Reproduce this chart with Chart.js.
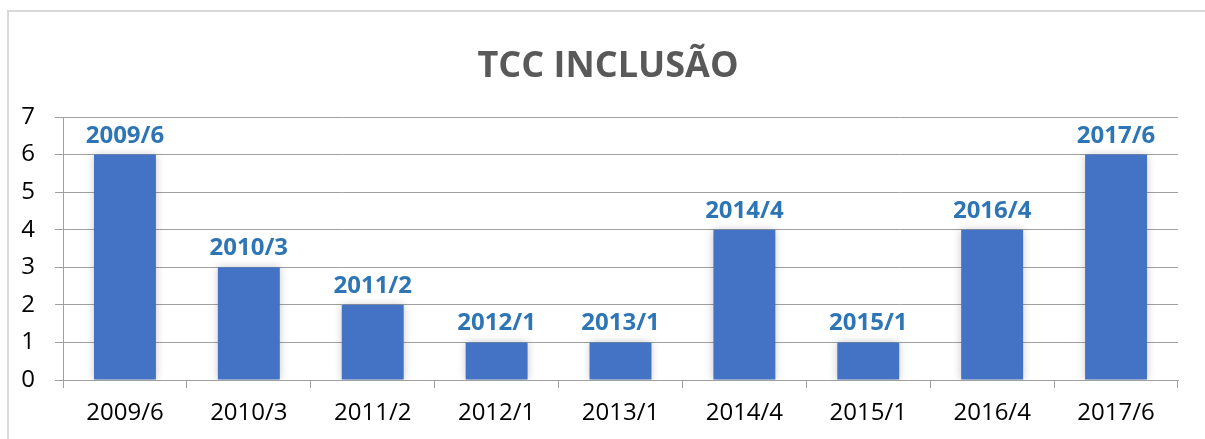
<!DOCTYPE html>
<html>
<head>
<meta charset="utf-8">
<script src="https://cdn.jsdelivr.net/npm/chart.js@4/dist/chart.umd.min.js"></script>
<style>
  body { margin: 0; background: #fff; }
  canvas { display: block; }
</style>
</head>
<body>
<canvas id="canvasOne" width="1205" height="439"></canvas>
<script>
var titleText = "TCC INCLUSÃO";
var categories = ["2009/6", "2010/3", "2011/2", "2012/1", "2013/1", "2014/4", "2015/1", "2016/4", "2017/6"];
var values = [6, 3, 2, 1, 1, 4, 1, 4, 6];
var yTicks = [0, 1, 2, 3, 4, 5, 6, 7];

var gridColor = "#a0a0a0";

// frame + title
var framePlugin = {
   id: "frame",
   beforeDraw: function(chart) {
      var ctx = chart.ctx;
      ctx.save();
      ctx.strokeStyle = "#d9d9d9";
      ctx.lineWidth = 2;
      ctx.beginPath();
      ctx.moveTo(8, 439);
      ctx.lineTo(8, 11);
      ctx.lineTo(1205, 11);
      ctx.stroke();
      ctx.fillStyle = "#595959";
      ctx.font = "bold 36px 'Open Sans'";
      ctx.textAlign = "center";
      ctx.textBaseline = "middle";
      ctx.fillText(titleText, 608, 67);
      ctx.restore();
   }
};

// soft shadow under the bars
var shadowPlugin = {
   id: "barShadow",
   beforeDatasetsDraw: function(chart) {
      var ctx = chart.ctx;
      ctx.save();
      ctx.shadowColor = "rgba(0,0,0,0.22)";
      ctx.shadowBlur = 8;
      ctx.shadowOffsetX = 0;
      ctx.shadowOffsetY = 0;
   },
   afterDatasetsDraw: function(chart) {
      chart.ctx.restore();
   }
};

// category labels above each bar
var labelPlugin = {
   id: "barLabels",
   afterDraw: function(chart) {
      var ctx = chart.ctx;
      var meta = chart.getDatasetMeta(0);
      ctx.save();
      ctx.fillStyle = "#2e75b6";
      ctx.font = "bold 24px 'Open Sans'";
      ctx.textAlign = "center";
      ctx.textBaseline = "alphabetic";
      meta.data.forEach(function(bar, i) {
         ctx.fillText(categories[i], bar.x, bar.y - 12);
      });
      ctx.restore();
   }
};

var ctx = document.getElementById("canvasOne").getContext("2d");
var config = {
   type: "bar",
   data: {
      labels: categories,
      datasets: [{
         label: titleText,
         data: values,
         backgroundColor: "#4472c4",
         borderWidth: 0,
         barPercentage: 0.5,
         categoryPercentage: 1.0
      }]
   },
   options: {
      responsive: false,
      animation: false,
      layout: { padding: { top: 117, right: 27, left: 0, bottom: 0 } },
      plugins: {
         legend: { display: false },
         title: { display: false },
         tooltip: { enabled: false }
      },
      scales: {
         x: {
            grid: {
               drawOnChartArea: false,
               drawTicks: true,
               tickLength: 8,
               color: gridColor
            },
            border: { color: gridColor },
            ticks: {
               color: "#000",
               font: { family: "'Open Sans'", size: 24 },
               padding: 11,
               maxRotation: 0
            },
            afterFit: function(scale) { scale.height = 59; }
         },
         y: {
            min: 0,
            max: 7,
            afterBuildTicks: function(scale) {
               scale.ticks = yTicks.map(function(v) { return { value: v }; });
            },
            grid: {
               color: gridColor,
               tickLength: 8
            },
            border: { color: gridColor },
            ticks: {
               color: "#000",
               font: { family: "'Open Sans'", size: 24 },
               padding: 20
            },
            afterFit: function(scale) { scale.width = 63; }
         }
      }
   },
   plugins: [framePlugin, shadowPlugin, labelPlugin]
};

var chart = new Chart(ctx, config);
</script>
</body>
</html>
